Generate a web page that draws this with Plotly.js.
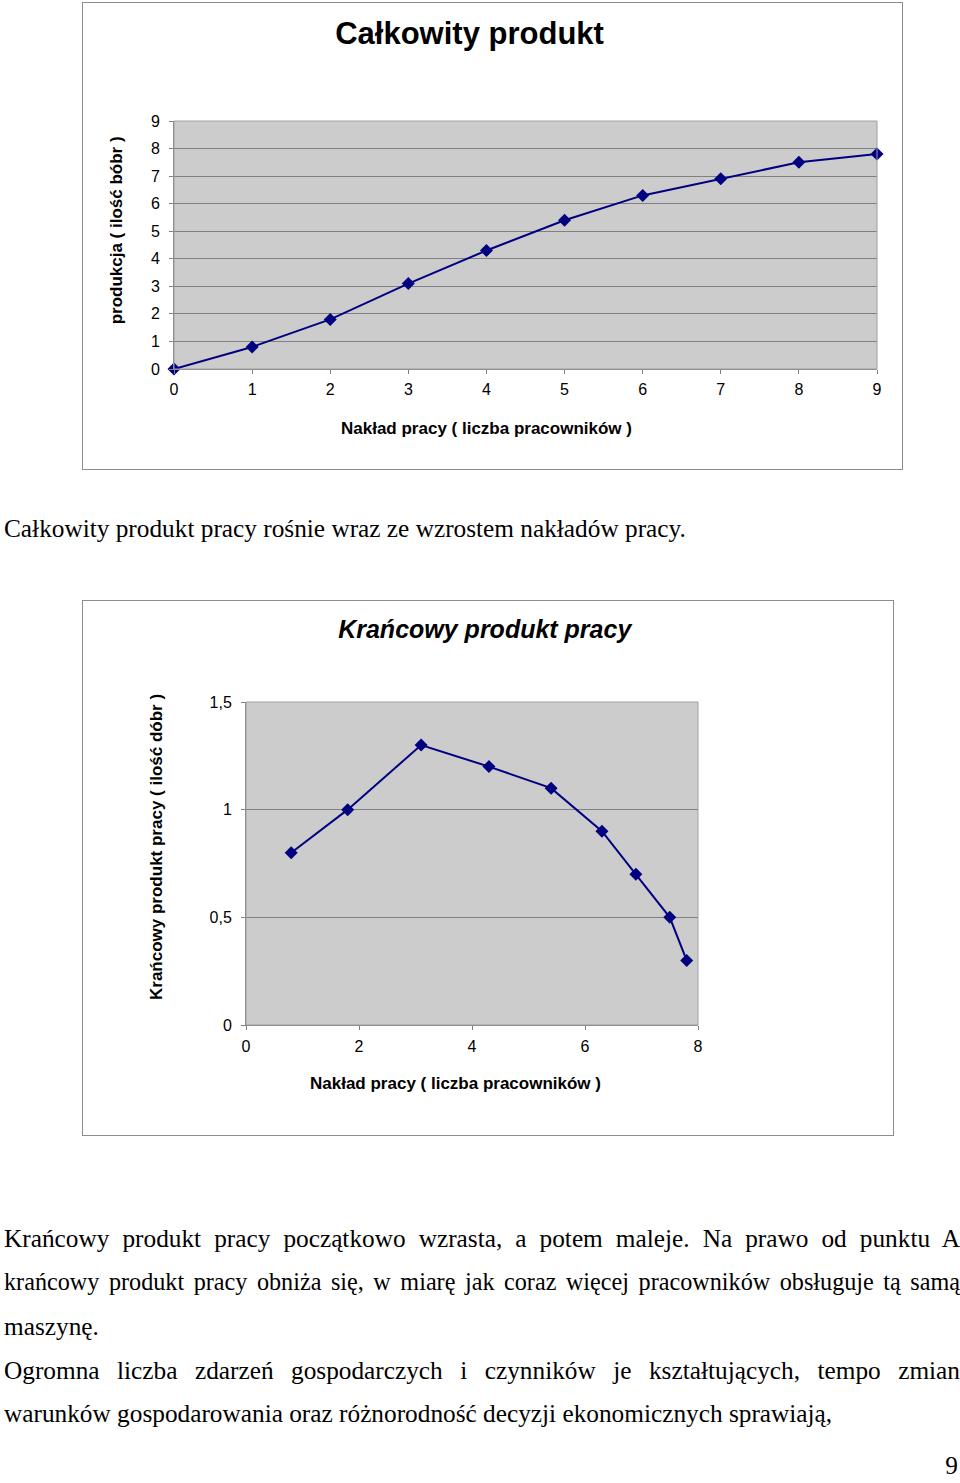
<!DOCTYPE html>
<html>
<head>
<meta charset="utf-8">
<script src="https://cdn.plot.ly/plotly-3.0.1.min.js"></script>
<style>
  html, body { margin: 0; padding: 0; background: #ffffff; }
  body { width: 960px; height: 1483px; position: relative; overflow: hidden; }
  .chart { position: absolute; box-sizing: border-box; border: 1px solid #8c8c8c; background: #fff; }
  .line { position: absolute; left: 4px; width: 956px; font-family: "Liberation Serif", "Times New Roman", serif;
          font-size: 25.3px; line-height: 30px; color: #000; white-space: nowrap; }
  .just { text-align: justify; text-align-last: justify; white-space: normal; }
</style>
</head>
<body>
<div id="tp" class="chart" style="left:82px; top:2px; width:821px; height:468px;"></div>
<div class="line" style="top:513px;">Całkowity produkt pracy rośnie wraz ze wzrostem nakładów pracy.</div>
<div id="mp" class="chart" style="left:82px; top:600px; width:812px; height:536px;"></div>
<div class="line just" style="top:1223px;">Krańcowy produkt pracy początkowo wzrasta, a potem maleje. Na prawo od punktu A</div>
<div class="line just" style="top:1267px; font-size:24.2px;">krańcowy produkt pracy obniża się, w miarę jak coraz więcej pracowników obsługuje tą samą</div>
<div class="line" style="top:1311px;">maszynę.</div>
<div class="line just" style="top:1355px;">Ogromna liczba zdarzeń gospodarczych i czynników je kształtujących, tempo zmian</div>
<div class="line" style="top:1398px;">warunków gospodarowania oraz różnorodność decyzji ekonomicznych sprawiają,</div>
<div class="line" style="top:1452px; left:940px; width:18px; text-align:right; line-height:26px;">9</div>
<script>
// Chart 1: total product
const labourInput = [0, 1, 2, 3, 4, 5, 6, 7, 8, 9];
const totalProduct = [0, 0.8, 1.8, 3.1, 4.3, 5.4, 6.3, 6.9, 7.5, 7.8];
// Chart 2: marginal product (x = labour positions as drawn)
const mpLabour = [0.8, 1.8, 3.1, 4.3, 5.4, 6.3, 6.9, 7.5, 7.8];
const marginalProduct = [0.8, 1.0, 1.3, 1.2, 1.1, 0.9, 0.7, 0.5, 0.3];

const xTitle = 'Nakład pracy ( liczba pracowników )';
const yTitleTP = 'produkcja ( ilość bóbr )';
const yTitleMP = 'Krańcowy produkt pracy ( ilość dóbr )';

const navy = '#000080';
const axisFont = { family: 'Liberation Sans, Arial, sans-serif', size: 16, color: '#000' };
const titleFont = { family: 'Liberation Sans, Arial, sans-serif', size: 17, color: '#000', weight: 'bold' };

const lineTrace = (x, y) => ({
  x: x, y: y, type: 'scatter', mode: 'lines+markers',
  line: { color: navy, width: 2 },
  marker: { symbol: 'diamond', size: 10, color: navy },
  cliponaxis: false, hoverinfo: 'skip'
});

const baseAxis = {
  showline: true, linecolor: '#808080', linewidth: 1, mirror: false,
  ticks: 'outside', ticklen: 4, tickcolor: '#808080', tickfont: axisFont,
  zeroline: false, fixedrange: true
};

const axisLabel = (text, x, y, angle) => ({
  text: text, xref: 'paper', yref: 'paper', x: x, y: y,
  xanchor: 'center', yanchor: 'middle', textangle: angle || 0,
  showarrow: false, font: titleFont
});

// Chart 1
Plotly.newPlot('tp', [lineTrace(labourInput, totalProduct)], {
  width: 819, height: 466,
  margin: { l: 91, r: 25, t: 118, b: 100 },
  paper_bgcolor: '#ffffff', plot_bgcolor: '#cccccc',
  showlegend: false,
  title: { text: 'Całkowity produkt', font: { family: 'Liberation Sans, Arial, sans-serif', size: 31, color: '#000', weight: 'bold' },
           x: 0.472, xanchor: 'center', y: 0.935, yanchor: 'middle', xref: 'container', yref: 'container' },
  xaxis: Object.assign({}, baseAxis, {
    range: [0, 9], tickmode: 'linear', tick0: 0, dtick: 1, showgrid: false, ticklabelstandoff: 2
  }),
  yaxis: Object.assign({}, baseAxis, {
    range: [0, 9], tickmode: 'linear', tick0: 0, dtick: 1, ticklabelstandoff: 6,
    showgrid: true, gridcolor: '#808080', gridwidth: 1
  }),
  annotations: [
    axisLabel(xTitle, 0.4444, -0.2389),
    axisLabel(yTitleTP, -0.0812, 0.5587, -90)
  ],
  shapes: [{ type: 'rect', xref: 'paper', yref: 'paper', x0: 0, x1: 1, y0: 0, y1: 1, line: { color: '#a0a0a0', width: 1 } }]
}, { staticPlot: true });

// Chart 2
Plotly.newPlot('mp', [lineTrace(mpLabour, marginalProduct)], {
  width: 810, height: 534,
  margin: { l: 163, r: 195, t: 101, b: 110 },
  paper_bgcolor: '#ffffff', plot_bgcolor: '#cccccc',
  showlegend: false,
  separators: ', ',
  title: { text: 'Krańcowy produkt pracy', font: { family: 'Liberation Sans, Arial, sans-serif', size: 25, color: '#000', weight: 'bold', style: 'italic' },
           x: 0.496, xanchor: 'center', y: 0.947, yanchor: 'middle', xref: 'container', yref: 'container' },
  xaxis: Object.assign({}, baseAxis, {
    range: [0, 8], tickmode: 'linear', tick0: 0, dtick: 2, showgrid: false, ticklabelstandoff: 3
  }),
  yaxis: Object.assign({}, baseAxis, {
    range: [0, 1.5], tickmode: 'linear', tick0: 0, dtick: 0.5, ticklabelstandoff: 6,
    showgrid: true, gridcolor: '#808080', gridwidth: 1
  }),
  annotations: [
    axisLabel(xTitle, 0.4646, -0.1796),
    axisLabel(yTitleMP, -0.1969, 0.5511, -90)
  ],
  shapes: [{ type: 'rect', xref: 'paper', yref: 'paper', x0: 0, x1: 1, y0: 0, y1: 1, line: { color: '#a0a0a0', width: 1 } }]
}, { staticPlot: true });
</script>
</body>
</html>
